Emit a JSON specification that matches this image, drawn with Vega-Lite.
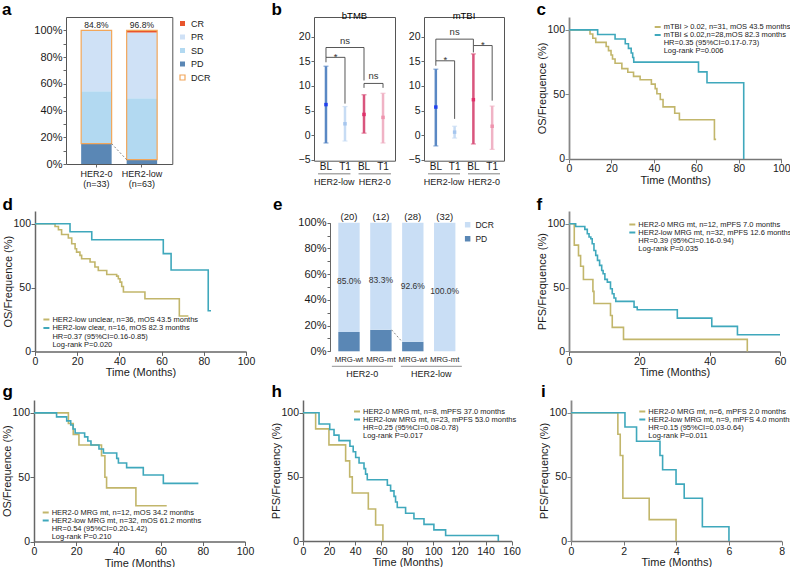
{
"$schema": "https://vega.github.io/schema/vega-lite/v6.json",
"background": "white",
"padding": {"left": 1, "top": 0, "right": 0, "bottom": 0},
"config": {
  "view": {"stroke": null},
  "font": "Liberation Sans",
  "axis": {"labelFont": "Liberation Sans", "titleFont": "Liberation Sans", "labelColor": "#1a1a1a", "titleColor": "#1a1a1a", "titleFontWeight": "normal", "grid": false, "domainColor": "#666", "tickColor": "#666", "labelFontSize": 10.5, "titleFontSize": 11, "labelOverlap": false},
  "legend": {"labelFont": "Liberation Sans", "labelColor": "#1a1a1a"},
  "title": {"font": "Liberation Sans", "color": "#000"},
  "text": {"font": "Liberation Sans"}
},
"spacing": 0,
"bounds": "full",
"resolve": {"scale": {"color": "independent", "stroke": "independent", "fill": "independent"}, "legend": {"color": "independent"}},
"vconcat": [
{
 "spacing": 0, "bounds": "flush",
 "resolve": {"scale": {"color": "independent", "stroke": "independent", "fill": "independent"}, "legend": {"color": "independent"}},
 "hconcat": [
  {"width": 64.7, "height": 20, "data": {"values": []}, "mark": "point",
   "title": {"text": "a", "anchor": "start", "frame": "group", "dx": 1, "offset": 0, "baseline": "alphabetic", "dy": 14.5, "fontSize": 17, "fontWeight": "bold"}},
  {"width": 106.3, "height": 147,
   "view": {"stroke": "#555", "strokeWidth": 1},
   "layer": [
    {"data": {"values": [
      {"her2": "HER2-0", "status": "PD", "lo": 0, "hi": 0.152},
      {"her2": "HER2-0", "status": "SD", "lo": 0.152, "hi": 0.545},
      {"her2": "HER2-0", "status": "PR", "lo": 0.545, "hi": 1.0},
      {"her2": "HER2-low", "status": "PD", "lo": 0, "hi": 0.032},
      {"her2": "HER2-low", "status": "SD", "lo": 0.032, "hi": 0.492},
      {"her2": "HER2-low", "status": "PR", "lo": 0.492, "hi": 0.984},
      {"her2": "HER2-low", "status": "CR", "lo": 0.984, "hi": 1.0}]},
     "mark": {"type": "bar"},
     "encoding": {
      "x": {"field": "her2", "type": "nominal", "scale": {"domain": ["HER2-0", "HER2-low"], "paddingInner": 0.33, "paddingOuter": 0.333},
            "axis": {"title": null, "labelAngle": 0, "labelFontSize": 9, "labelLineHeight": 10, "tickSize": 3, "labelPadding": 2, "domain": false,
                     "labelExpr": "datum.value == 'HER2-0' ? ['HER2-0', '(n=33)'] : ['HER2-low', '(n=63)']"}},
      "y": {"field": "lo", "type": "quantitative", "scale": {"domain": [0, 1.1], "nice": false},
            "axis": {"title": null, "values": [0, 0.1, 0.2, 0.3, 0.4, 0.5, 0.6, 0.7, 0.8, 0.9, 1], "tickCount": 30, "labelExpr": "round(datum.value*10) % 2 === 0 ? format(datum.value, '.0%') : ''", "tickSize": 3, "labelPadding": 1, "domain": false, "labelFontSize": 11, "labelOverlap": false}},
      "y2": {"field": "hi"},
      "color": {"field": "status", "type": "nominal",
                "scale": {"domain": ["CR", "PR", "SD", "PD", "DCR"], "range": ["#e8552d", "#cfe1f6", "#b2d9f1", "#5a87b5", "#ffffff"]},
                "legend": {"orient": "none", "legendX": 112, "legendY": 2, "title": null, "symbolType": "square", "symbolSize": 25, "labelFontSize": 9, "rowPadding": 2.5, "labelOffset": 4, "padding": 0,
                           "encode": {"symbols": {"update": {"stroke": {"signal": "datum.value === 'DCR' ? '#f2a65a' : 'transparent'"}, "strokeWidth": {"value": 1.2}}}}}}
     }},
    {"data": {"values": [{"her2": "HER2-0", "pd": 0.152, "dcr": 0.848}, {"her2": "HER2-low", "pd": 0.032, "dcr": 0.968}]},
     "mark": {"type": "bar", "fill": "transparent", "stroke": "#f2a65a", "strokeWidth": 1.2},
     "encoding": {"x": {"field": "her2", "type": "nominal"}, "y": {"field": "pd", "type": "quantitative"}, "y2": {"datum": 1}}},
    {"data": {"values": [{"her2": "HER2-0", "pd": 0.152, "dcr": 0.848}, {"her2": "HER2-low", "pd": 0.032, "dcr": 0.968}]},
     "mark": {"type": "text", "fontSize": 8.5, "dy": -2.5, "baseline": "alphabetic", "color": "#222"},
     "encoding": {"x": {"field": "her2", "type": "nominal"}, "y": {"datum": 1}, "text": {"field": "dcr", "type": "quantitative", "format": ".1%"}}},
    {"data": {"values": [{"from": "HER2-0", "to": "HER2-low", "pfrom": 0.152, "pto": 0.032}]},
     "mark": {"type": "rule", "strokeDash": [2, 2], "color": "#666", "strokeWidth": 0.8},
     "encoding": {"x": {"field": "from", "type": "nominal", "bandPosition": 1}, "x2": {"field": "to", "bandPosition": 0}, "y": {"field": "pfrom", "type": "quantitative"}, "y2": {"field": "pto"}}}
   ]},
  {"width": 141, "height": 177.5, "view": {"fill": "transparent", "stroke": "transparent"}, "data": {"values": []}, "mark": "point",
   "title": {"text": "b", "anchor": "start", "frame": "group", "dx": 98.5, "offset": 0, "baseline": "alphabetic", "dy": 14.5, "fontSize": 17, "fontWeight": "bold"}},
  {"width": 81, "height": 143.7,
   "view": {"stroke": "#555", "strokeWidth": 1},
   "title": {"text": "bTMB", "anchor": "middle", "offset": -13, "fontSize": 9.5, "fontWeight": "normal", "baseline": "bottom"},
   "resolve": {"scale": {"x": "independent"}, "axis": {"x": "independent"}},
   "layer": [
    {"data": {"values": [{"grp": "HER2-low"}, {"grp": "HER2-0"}]},
     "mark": {"type": "bar", "color": "#aaaaaa"},
     "encoding": {
      "x": {"field": "grp", "type": "nominal", "scale": {"domain": ["HER2-low", "HER2-0"], "paddingInner": 0.2, "paddingOuter": 0.1},
            "axis": {"orient": "bottom", "title": null, "offset": 15, "ticks": false, "domain": false, "labelFontSize": 9, "labelPadding": 2, "labelAngle": 0}},
      "y": {"datum": -7.7, "type": "quantitative", "scale": {"domain": [-5.2, 24], "nice": false}, "axis": {"title": null, "values": [-5, 0, 5, 10, 15, 20], "tickCount": 30, "tickSize": 3, "labelPadding": 1, "domain": false, "labelFontSize": 10.5, "labelOverlap": false}},
      "y2": {"datum": -8.0}}},
    {"layer": [
      {"data": {"values": [
        {"cat": "HER2-low BL", "mean": 6.2, "lo": -1.6, "hi": 14.0},
        {"cat": "HER2-low T1", "mean": 2.3, "lo": -1.2, "hi": 5.8},
        {"cat": "HER2-0 BL", "mean": 4.2, "lo": 0.4, "hi": 8.2},
        {"cat": "HER2-0 T1", "mean": 3.6, "lo": -1.6, "hi": 8.5}]},
       "layer": [
        {"mark": {"type": "rule", "strokeWidth": 2.5},
         "encoding": {
          "x": {"field": "cat", "type": "nominal", "scale": {"domain": ["HER2-low BL", "HER2-low T1", "HER2-0 BL", "HER2-0 T1"], "paddingInner": 0.37, "paddingOuter": 0.315},
                "axis": {"orient": "bottom", "title": null, "labelExpr": "split(datum.value, ' ')[1]", "ticks": false, "domain": false, "labelPadding": 1, "labelFontSize": 10, "labelAngle": 0}},
          "y": {"field": "lo", "type": "quantitative", "scale": {"domain": [-5.2, 24], "nice": false}},
          "y2": {"field": "hi"},
          "stroke": {"field": "cat", "type": "nominal", "scale": {"domain": ["HER2-low BL", "HER2-low T1", "HER2-0 BL", "HER2-0 T1"], "range": ["#5a88c4", "#c7dcf4", "#d9557d", "#f0b3c5"]}, "legend": null}}},
        {"mark": {"type": "tick", "thickness": 1.2, "size": 5},
         "encoding": {"x": {"field": "cat", "type": "nominal"}, "y": {"field": "lo", "type": "quantitative"},
          "color": {"field": "cat", "type": "nominal", "scale": {"domain": ["HER2-low BL", "HER2-low T1", "HER2-0 BL", "HER2-0 T1"], "range": ["#5a88c4", "#c7dcf4", "#d9557d", "#f0b3c5"]}, "legend": null}}},
        {"mark": {"type": "tick", "thickness": 1.2, "size": 5},
         "encoding": {"x": {"field": "cat", "type": "nominal"}, "y": {"field": "hi", "type": "quantitative"},
          "color": {"field": "cat", "type": "nominal", "legend": null}}},
        {"mark": {"type": "square", "size": 12, "opacity": 1},
         "encoding": {"x": {"field": "cat", "type": "nominal"}, "y": {"field": "mean", "type": "quantitative"},
          "fill": {"field": "cat", "type": "nominal", "scale": {"domain": ["HER2-low BL", "HER2-low T1", "HER2-0 BL", "HER2-0 T1"], "range": ["#2040f0", "#a6c6ee", "#e0306a", "#ef93ad"]}, "legend": null}}}
       ]},
      {"data": {"values": [
        {"a": "HER2-low BL", "b": "HER2-low T1", "y": 15.8},
        {"a": "HER2-low BL", "b": "HER2-0 BL", "y": 17.8},
        {"a": "HER2-0 BL", "b": "HER2-0 T1", "y": 10.5}]},
       "mark": {"type": "rule", "color": "#444", "strokeWidth": 0.9},
       "encoding": {"x": {"field": "a", "type": "nominal", "bandPosition": 0.5}, "x2": {"field": "b", "bandPosition": 0.5}, "y": {"field": "y", "type": "quantitative"}}},
      {"data": {"values": [
        {"c": "HER2-low BL", "y1": 14.8, "y2": 15.8},
        {"c": "HER2-low T1", "y1": 6.4, "y2": 15.8},
        {"c": "HER2-low BL", "y1": 15.8, "y2": 17.8},
        {"c": "HER2-0 BL", "y1": 11.1, "y2": 17.8},
        {"c": "HER2-0 BL", "y1": 9.6, "y2": 10.5},
        {"c": "HER2-0 T1", "y1": 9.6, "y2": 10.5}]},
       "mark": {"type": "rule", "color": "#444", "strokeWidth": 0.9},
       "encoding": {"x": {"field": "c", "type": "nominal"}, "y": {"field": "y1", "type": "quantitative"}, "y2": {"field": "y2"}}},
      {"data": {"values": [
        {"pos": "HER2-low BL", "txt": "*", "y": 15.8, "kind": "adj"},
        {"pos": "HER2-low T1", "txt": "ns", "y": 17.8, "kind": "mid"},
        {"pos": "HER2-0 BL", "txt": "ns", "y": 10.5, "kind": "adj"}]},
       "layer": [
        {"transform": [{"filter": "datum.kind === 'adj' && datum.txt === '*'"}],
         "mark": {"type": "text", "fontSize": 9.5, "dy": 2.5, "baseline": "alphabetic", "color": "#333"},
         "encoding": {"x": {"field": "pos", "type": "nominal", "bandPosition": 1.294}, "y": {"field": "y", "type": "quantitative"}, "text": {"field": "txt"}}},
        {"transform": [{"filter": "datum.kind === 'adj' && datum.txt === 'ns'"}],
         "mark": {"type": "text", "fontSize": 9.5, "dy": -4, "baseline": "alphabetic", "color": "#333"},
         "encoding": {"x": {"field": "pos", "type": "nominal", "bandPosition": 1.294}, "y": {"field": "y", "type": "quantitative"}, "text": {"field": "txt"}}},
        {"transform": [{"filter": "datum.kind === 'mid'"}],
         "mark": {"type": "text", "fontSize": 9.5, "dy": -4, "baseline": "alphabetic", "color": "#333"},
         "encoding": {"x": {"field": "pos", "type": "nominal", "bandPosition": 0.5}, "y": {"field": "y", "type": "quantitative"}, "text": {"field": "txt"}}}
       ]}
    ]}
   ]},
  {"width": 29, "height": 20, "data": {"values": []}, "mark": "point"},
  {"width": 80, "height": 143.7,
   "view": {"stroke": "#555", "strokeWidth": 1},
   "title": {"text": "mTBI", "anchor": "middle", "offset": -13, "fontSize": 9.5, "fontWeight": "normal", "baseline": "bottom"},
   "resolve": {"scale": {"x": "independent"}, "axis": {"x": "independent"}},
   "layer": [
    {"data": {"values": [{"grp": "HER2-low"}, {"grp": "HER2-0"}]},
     "mark": {"type": "bar", "color": "#aaaaaa"},
     "encoding": {
      "x": {"field": "grp", "type": "nominal", "scale": {"domain": ["HER2-low", "HER2-0"], "paddingInner": 0.2, "paddingOuter": 0.1},
            "axis": {"orient": "bottom", "title": null, "offset": 15, "ticks": false, "domain": false, "labelFontSize": 9, "labelPadding": 2, "labelAngle": 0}},
      "y": {"datum": -7.7, "type": "quantitative", "scale": {"domain": [-5.2, 24], "nice": false}, "axis": {"title": null, "values": [-5, 0, 5, 10, 15, 20], "tickCount": 30, "tickSize": 3, "labelPadding": 1, "domain": false, "labelFontSize": 10.5, "labelOverlap": false}},
      "y2": {"datum": -8.0}}},
    {"layer": [
      {"data": {"values": [
        {"cat": "HER2-low BL", "mean": 5.7, "lo": -2.2, "hi": 13.4},
        {"cat": "HER2-low T1", "mean": 0.6, "lo": -0.6, "hi": 1.8},
        {"cat": "HER2-0 BL", "mean": 7.2, "lo": -1.8, "hi": 16.5},
        {"cat": "HER2-0 T1", "mean": 1.8, "lo": -2.9, "hi": 5.9}]},
       "layer": [
        {"mark": {"type": "rule", "strokeWidth": 2.5},
         "encoding": {
          "x": {"field": "cat", "type": "nominal", "scale": {"domain": ["HER2-low BL", "HER2-low T1", "HER2-0 BL", "HER2-0 T1"], "paddingInner": 0.37, "paddingOuter": 0.315},
                "axis": {"orient": "bottom", "title": null, "labelExpr": "split(datum.value, ' ')[1]", "ticks": false, "domain": false, "labelPadding": 1, "labelFontSize": 10, "labelAngle": 0}},
          "y": {"field": "lo", "type": "quantitative", "scale": {"domain": [-5.2, 24], "nice": false}},
          "y2": {"field": "hi"},
          "stroke": {"field": "cat", "type": "nominal", "scale": {"domain": ["HER2-low BL", "HER2-low T1", "HER2-0 BL", "HER2-0 T1"], "range": ["#5a88c4", "#c7dcf4", "#d9557d", "#f0b3c5"]}, "legend": null}}},
        {"mark": {"type": "tick", "thickness": 1.2, "size": 5},
         "encoding": {"x": {"field": "cat", "type": "nominal"}, "y": {"field": "lo", "type": "quantitative"},
          "color": {"field": "cat", "type": "nominal", "scale": {"domain": ["HER2-low BL", "HER2-low T1", "HER2-0 BL", "HER2-0 T1"], "range": ["#5a88c4", "#c7dcf4", "#d9557d", "#f0b3c5"]}, "legend": null}}},
        {"mark": {"type": "tick", "thickness": 1.2, "size": 5},
         "encoding": {"x": {"field": "cat", "type": "nominal"}, "y": {"field": "hi", "type": "quantitative"},
          "color": {"field": "cat", "type": "nominal", "legend": null}}},
        {"mark": {"type": "square", "size": 12, "opacity": 1},
         "encoding": {"x": {"field": "cat", "type": "nominal"}, "y": {"field": "mean", "type": "quantitative"},
          "fill": {"field": "cat", "type": "nominal", "scale": {"domain": ["HER2-low BL", "HER2-low T1", "HER2-0 BL", "HER2-0 T1"], "range": ["#2040f0", "#a6c6ee", "#e0306a", "#ef93ad"]}, "legend": null}}}
       ]},
      {"data": {"values": [
        {"a": "HER2-low BL", "b": "HER2-0 BL", "y": 19.5},
        {"a": "HER2-low BL", "b": "HER2-low T1", "y": 15.1},
        {"a": "HER2-0 BL", "b": "HER2-0 T1", "y": 18.2}]},
       "mark": {"type": "rule", "color": "#444", "strokeWidth": 0.9},
       "encoding": {"x": {"field": "a", "type": "nominal", "bandPosition": 0.5}, "x2": {"field": "b", "bandPosition": 0.5}, "y": {"field": "y", "type": "quantitative"}}},
      {"data": {"values": [
        {"c": "HER2-low BL", "y1": 15.1, "y2": 19.5},
        {"c": "HER2-0 BL", "y1": 18.2, "y2": 19.5},
        {"c": "HER2-low BL", "y1": 14.1, "y2": 15.1},
        {"c": "HER2-low T1", "y1": 3.3, "y2": 15.1},
        {"c": "HER2-0 BL", "y1": 16.8, "y2": 18.2},
        {"c": "HER2-0 T1", "y1": 7.0, "y2": 18.2}]},
       "mark": {"type": "rule", "color": "#444", "strokeWidth": 0.9},
       "encoding": {"x": {"field": "c", "type": "nominal"}, "y": {"field": "y1", "type": "quantitative"}, "y2": {"field": "y2"}}},
      {"data": {"values": [
        {"pos": "HER2-low T1", "txt": "ns", "y": 19.5, "kind": "mid"},
        {"pos": "HER2-low BL", "txt": "*", "y": 15.1, "kind": "adj"},
        {"pos": "HER2-0 BL", "txt": "*", "y": 18.2, "kind": "adj"}]},
       "layer": [
        {"transform": [{"filter": "datum.kind === 'adj' && datum.txt === '*'"}],
         "mark": {"type": "text", "fontSize": 9.5, "dy": 2.5, "baseline": "alphabetic", "color": "#333"},
         "encoding": {"x": {"field": "pos", "type": "nominal", "bandPosition": 1.294}, "y": {"field": "y", "type": "quantitative"}, "text": {"field": "txt"}}},
        {"transform": [{"filter": "datum.kind === 'mid'"}],
         "mark": {"type": "text", "fontSize": 9.5, "dy": -4, "baseline": "alphabetic", "color": "#333"},
         "encoding": {"x": {"field": "pos", "type": "nominal", "bandPosition": 0.5}, "y": {"field": "y", "type": "quantitative"}, "text": {"field": "txt"}}}
       ]}
    ]}
   ]},
  {"width": 64.7, "height": 20, "data": {"values": []}, "mark": "point",
   "title": {"text": "c", "anchor": "start", "frame": "group", "dx": 32.5, "offset": 0, "baseline": "alphabetic", "dy": 14.5, "fontSize": 17, "fontWeight": "bold"}},
  {"width": 212.3, "height": 141.9,
   "data": {"values": [
    {"grp": "mTBI > 0.02, n=31, mOS 43.5 months", "t": 0, "s": 100},
    {"grp": "mTBI > 0.02, n=31, mOS 43.5 months", "t": 9.9, "s": 96.8},
    {"grp": "mTBI > 0.02, n=31, mOS 43.5 months", "t": 11.2, "s": 93.5},
    {"grp": "mTBI > 0.02, n=31, mOS 43.5 months", "t": 12.6, "s": 90.3},
    {"grp": "mTBI > 0.02, n=31, mOS 43.5 months", "t": 17.5, "s": 87.1},
    {"grp": "mTBI > 0.02, n=31, mOS 43.5 months", "t": 18.6, "s": 83.9},
    {"grp": "mTBI > 0.02, n=31, mOS 43.5 months", "t": 19.8, "s": 80.6},
    {"grp": "mTBI > 0.02, n=31, mOS 43.5 months", "t": 20.5, "s": 77.4},
    {"grp": "mTBI > 0.02, n=31, mOS 43.5 months", "t": 21.7, "s": 74.2},
    {"grp": "mTBI > 0.02, n=31, mOS 43.5 months", "t": 24.9, "s": 70.0},
    {"grp": "mTBI > 0.02, n=31, mOS 43.5 months", "t": 27.7, "s": 67.2},
    {"grp": "mTBI > 0.02, n=31, mOS 43.5 months", "t": 30.4, "s": 64.0},
    {"grp": "mTBI > 0.02, n=31, mOS 43.5 months", "t": 33.5, "s": 61.3},
    {"grp": "mTBI > 0.02, n=31, mOS 43.5 months", "t": 38.8, "s": 58.0},
    {"grp": "mTBI > 0.02, n=31, mOS 43.5 months", "t": 40.6, "s": 54.5},
    {"grp": "mTBI > 0.02, n=31, mOS 43.5 months", "t": 41.4, "s": 50.5},
    {"grp": "mTBI > 0.02, n=31, mOS 43.5 months", "t": 43.0, "s": 46.0},
    {"grp": "mTBI > 0.02, n=31, mOS 43.5 months", "t": 44.3, "s": 40.3},
    {"grp": "mTBI > 0.02, n=31, mOS 43.5 months", "t": 49.8, "s": 35.4},
    {"grp": "mTBI > 0.02, n=31, mOS 43.5 months", "t": 52.0, "s": 30.4},
    {"grp": "mTBI > 0.02, n=31, mOS 43.5 months", "t": 68.5, "s": 15.1},
    {"grp": "mTBI > 0.02, n=31, mOS 43.5 months", "t": 69.3, "s": 15.1},
    {"grp": "mTBI ≤ 0.02,n=28,mOS 82.3 months", "t": 0, "s": 100},
    {"grp": "mTBI ≤ 0.02,n=28,mOS 82.3 months", "t": 13.5, "s": 96.4},
    {"grp": "mTBI ≤ 0.02,n=28,mOS 82.3 months", "t": 21.7, "s": 92.9},
    {"grp": "mTBI ≤ 0.02,n=28,mOS 82.3 months", "t": 26.5, "s": 89.3},
    {"grp": "mTBI ≤ 0.02,n=28,mOS 82.3 months", "t": 28.0, "s": 85.7},
    {"grp": "mTBI ≤ 0.02,n=28,mOS 82.3 months", "t": 29.3, "s": 82.1},
    {"grp": "mTBI ≤ 0.02,n=28,mOS 82.3 months", "t": 30.0, "s": 78.6},
    {"grp": "mTBI ≤ 0.02,n=28,mOS 82.3 months", "t": 30.5, "s": 75.0},
    {"grp": "mTBI ≤ 0.02,n=28,mOS 82.3 months", "t": 61.0, "s": 67.5},
    {"grp": "mTBI ≤ 0.02,n=28,mOS 82.3 months", "t": 65.0, "s": 59.0},
    {"grp": "mTBI ≤ 0.02,n=28,mOS 82.3 months", "t": 82.3, "s": 0}]},
   "mark": {"type": "line", "interpolate": "step-after", "strokeWidth": 1.6},
   "encoding": {
    "x": {"field": "t", "type": "quantitative", "scale": {"domain": [0, 100], "nice": false},
          "axis": {"title": "Time (Months)", "values": [0, 20, 40, 60, 80, 100], "tickCount": 30, "format": "d", "tickSize": 4, "labelPadding": 1, "titlePadding": 0, "domainColor": "#777", "domainWidth": 1.5, "tickColor": "#777", "labelFlush": false}},
    "y": {"field": "s", "type": "quantitative", "scale": {"domain": [0, 110], "nice": false},
          "axis": {"title": "OS/Frequence (%)", "values": [0, 50, 100], "tickCount": 30, "format": "d", "tickSize": 4, "labelPadding": 0.5, "titlePadding": -1, "domainColor": "#888", "domainWidth": 1.8, "tickColor": "#888"}},
    "color": {"field": "grp", "type": "nominal",
              "scale": {"domain": ["mTBI > 0.02, n=31, mOS 43.5 months", "mTBI ≤ 0.02,n=28,mOS 82.3 months", "HR=0.35  (95%CI=0.17-0.73)", "Log-rank P=0.006"], "range": ["#c2b66b", "#3fa8bc", "transparent", "transparent"]},
              "legend": {"orient": "none", "legendX": 84.7, "legendY": 6, "title": null, "symbolType": "stroke", "symbolSize": 36, "symbolStrokeWidth": 2, "labelFontSize": 7.5, "rowPadding": 0, "labelOffset": 2, "padding": 0, "labelLimit": 300}}
   }}
 ]
},
{
 "spacing": 0, "bounds": "flush",
 "resolve": {"scale": {"color": "independent", "stroke": "independent", "fill": "independent"}, "legend": {"color": "independent"}},
 "hconcat": [
  {"width": 33.3, "height": 20, "data": {"values": []}, "mark": "point",
   "title": {"text": "d", "anchor": "start", "frame": "group", "dx": 1.5, "offset": 0, "baseline": "alphabetic", "dy": 16, "fontSize": 17, "fontWeight": "bold"}},
  {"width": 211, "height": 140.4,
   "data": {"values": [
    {"grp": "HER2-low unclear, n=36, mOS 43.5 months", "t": 0, "s": 100},
    {"grp": "HER2-low unclear, n=36, mOS 43.5 months", "t": 9.5, "s": 97.9},
    {"grp": "HER2-low unclear, n=36, mOS 43.5 months", "t": 11.1, "s": 95.3},
    {"grp": "HER2-low unclear, n=36, mOS 43.5 months", "t": 12.6, "s": 91.6},
    {"grp": "HER2-low unclear, n=36, mOS 43.5 months", "t": 15.8, "s": 88.8},
    {"grp": "HER2-low unclear, n=36, mOS 43.5 months", "t": 17.4, "s": 84.3},
    {"grp": "HER2-low unclear, n=36, mOS 43.5 months", "t": 19.0, "s": 80.4},
    {"grp": "HER2-low unclear, n=36, mOS 43.5 months", "t": 19.7, "s": 77.8},
    {"grp": "HER2-low unclear, n=36, mOS 43.5 months", "t": 21.3, "s": 75.2},
    {"grp": "HER2-low unclear, n=36, mOS 43.5 months", "t": 22.1, "s": 72.6},
    {"grp": "HER2-low unclear, n=36, mOS 43.5 months", "t": 26.1, "s": 70.0},
    {"grp": "HER2-low unclear, n=36, mOS 43.5 months", "t": 28.4, "s": 66.1},
    {"grp": "HER2-low unclear, n=36, mOS 43.5 months", "t": 30.0, "s": 63.4},
    {"grp": "HER2-low unclear, n=36, mOS 43.5 months", "t": 34.0, "s": 60.3},
    {"grp": "HER2-low unclear, n=36, mOS 43.5 months", "t": 38.7, "s": 59.0},
    {"grp": "HER2-low unclear, n=36, mOS 43.5 months", "t": 39.5, "s": 56.9},
    {"grp": "HER2-low unclear, n=36, mOS 43.5 months", "t": 40.3, "s": 54.3},
    {"grp": "HER2-low unclear, n=36, mOS 43.5 months", "t": 41.1, "s": 50.9},
    {"grp": "HER2-low unclear, n=36, mOS 43.5 months", "t": 41.9, "s": 46.5},
    {"grp": "HER2-low unclear, n=36, mOS 43.5 months", "t": 52.1, "s": 41.3},
    {"grp": "HER2-low unclear, n=36, mOS 43.5 months", "t": 68.4, "s": 27.7},
    {"grp": "HER2-low unclear, n=36, mOS 43.5 months", "t": 72.7, "s": 27.7},
    {"grp": "HER2-low clear, n=16, mOS 82.3 months", "t": 0, "s": 100},
    {"grp": "HER2-low clear, n=16, mOS 82.3 months", "t": 16.6, "s": 93.8},
    {"grp": "HER2-low clear, n=16, mOS 82.3 months", "t": 26.9, "s": 87.5},
    {"grp": "HER2-low clear, n=16, mOS 82.3 months", "t": 60.8, "s": 76.6},
    {"grp": "HER2-low clear, n=16, mOS 82.3 months", "t": 64.5, "s": 63.8},
    {"grp": "HER2-low clear, n=16, mOS 82.3 months", "t": 82.1, "s": 31.9},
    {"grp": "HER2-low clear, n=16, mOS 82.3 months", "t": 83.4, "s": 31.9}]},
   "mark": {"type": "line", "interpolate": "step-after", "strokeWidth": 1.6},
   "encoding": {
    "x": {"field": "t", "type": "quantitative", "scale": {"domain": [0, 100], "nice": false},
          "axis": {"title": "Time (Months)", "values": [0, 20, 40, 60, 80, 100], "tickCount": 30, "format": "d", "tickSize": 4, "labelPadding": 1, "titlePadding": 0, "domainColor": "#666", "domainWidth": 1.5, "tickColor": "#666", "labelFlush": false}},
    "y": {"field": "s", "type": "quantitative", "scale": {"domain": [0, 110], "nice": false},
          "axis": {"title": "OS/Frequence (%)", "values": [0, 50, 100], "tickCount": 30, "format": "d", "tickSize": 4, "labelPadding": 0.5, "titlePadding": -1, "domainColor": "#666", "domainWidth": 1.5, "tickColor": "#666"}},
    "color": {"field": "grp", "type": "nominal",
              "scale": {"domain": ["HER2-low unclear, n=36, mOS 43.5 months", "HER2-low clear, n=16, mOS 82.3 months", "HR=0.37 (95%CI=0.16-0.85)", "Log-rank P=0.020"], "range": ["#c2b66b", "#3fa8bc", "transparent", "transparent"]},
              "legend": {"orient": "none", "legendX": 7.4, "legendY": 104.5, "title": null, "symbolType": "stroke", "symbolSize": 36, "symbolStrokeWidth": 2, "labelFontSize": 7.5, "rowPadding": 0.5, "labelOffset": 2, "padding": 0, "labelLimit": 300}}
   }},
  {"width": 84, "height": 171, "view": {"fill": "transparent", "stroke": "transparent"}, "data": {"values": []}, "mark": "point",
   "title": {"text": "e", "anchor": "start", "frame": "group", "dx": 27, "offset": 0, "baseline": "alphabetic", "dy": 16, "fontSize": 17, "fontWeight": "bold"}},
  {"width": 133.7, "height": 140.4,
   "resolve": {"scale": {"x": "independent"}, "axis": {"x": "independent"}},
   "layer": [
    {"data": {"values": [{"grp": "HER2-0"}, {"grp": "HER2-low"}]},
     "mark": {"type": "bar", "color": "#a8a8a8"},
     "encoding": {
      "x": {"field": "grp", "type": "nominal", "scale": {"domain": ["HER2-0", "HER2-low"], "paddingInner": 0.116, "paddingOuter": 0.027},
            "axis": {"orient": "bottom", "title": null, "offset": 16, "ticks": false, "domain": false, "labelFontSize": 9, "labelPadding": 2, "labelAngle": 0}},
      "y": {"datum": -0.112, "type": "quantitative", "scale": {"domain": [0, 1], "range": [140.3, 11.7], "nice": false},
            "axis": {"title": null, "values": [0, 0.1, 0.2, 0.3, 0.4, 0.5, 0.6, 0.7, 0.8, 0.9, 1], "tickCount": 30, "labelExpr": "round(datum.value*10) % 2 === 0 ? format(datum.value, '.0%') : ''", "tickSize": 3, "labelPadding": 1, "domainColor": "#666", "labelFontSize": 11, "labelOverlap": false}},
      "y2": {"datum": -0.122}}},
    {"layer": [
      {"data": {"values": [
        {"bar": "HER2-0 MRG-wt", "status": "PD", "lo": 0, "hi": 0.15, "pct": 0.15},
        {"bar": "HER2-0 MRG-wt", "status": "DCR", "lo": 0.15, "hi": 1, "pct": 0.85},
        {"bar": "HER2-0 MRG-mt", "status": "PD", "lo": 0, "hi": 0.167, "pct": 0.167},
        {"bar": "HER2-0 MRG-mt", "status": "DCR", "lo": 0.167, "hi": 1, "pct": 0.833},
        {"bar": "HER2-low MRG-wt", "status": "PD", "lo": 0, "hi": 0.074, "pct": 0.074},
        {"bar": "HER2-low MRG-wt", "status": "DCR", "lo": 0.074, "hi": 1, "pct": 0.926},
        {"bar": "HER2-low MRG-mt", "status": "DCR", "lo": 0, "hi": 1, "pct": 1.0}]},
       "layer": [
        {"mark": {"type": "bar"},
         "encoding": {
          "x": {"field": "bar", "type": "nominal", "scale": {"domain": ["HER2-0 MRG-wt", "HER2-0 MRG-mt", "HER2-low MRG-wt", "HER2-low MRG-mt"], "paddingInner": 0.33, "paddingOuter": 0.26},
                "axis": {"orient": "bottom", "title": null, "labelExpr": "split(datum.value, ' ')[1]", "ticks": false, "domain": false, "labelPadding": 4, "labelFontSize": 7.8, "labelAngle": 0}},
          "y": {"field": "lo", "type": "quantitative", "scale": {"domain": [0, 1], "range": [140.3, 11.7], "nice": false}},
          "y2": {"field": "hi"},
          "color": {"field": "status", "type": "nominal", "scale": {"domain": ["DCR", "PD"], "range": ["#c9def5", "#5a87b5"]},
                    "legend": {"orient": "none", "legendX": 133.4, "legendY": 9.5, "title": null, "symbolType": "square", "symbolSize": 30, "labelFontSize": 8.5, "rowPadding": 5, "labelOffset": 3.5, "padding": 0}}}},
        {"transform": [{"filter": "datum.status === 'DCR'"}, {"fold": ["lo", "hi"]}],
         "mark": {"type": "text", "fontSize": 8.5, "baseline": "middle", "dy": 3.5, "color": "#333"},
         "encoding": {"x": {"field": "bar", "type": "nominal"}, "y": {"aggregate": "mean", "field": "value", "type": "quantitative"}, "text": {"field": "pct", "type": "quantitative", "format": ".1%"}}}
       ]},
      {"data": {"values": [
        {"bar": "HER2-0 MRG-wt", "n": "(20)"},
        {"bar": "HER2-0 MRG-mt", "n": "(12)"},
        {"bar": "HER2-low MRG-wt", "n": "(28)"},
        {"bar": "HER2-low MRG-mt", "n": "(32)"}]},
       "mark": {"type": "text", "fontSize": 9.5, "baseline": "alphabetic", "dy": -3, "color": "#222"},
       "encoding": {"x": {"field": "bar", "type": "nominal"}, "y": {"datum": 1}, "text": {"field": "n"}}},
      {"data": {"values": [{"from": "HER2-0 MRG-mt", "to": "HER2-low MRG-wt", "pfrom": 0.167, "pto": 0.074}]},
       "mark": {"type": "rule", "strokeDash": [2, 2], "color": "#666", "strokeWidth": 0.8},
       "encoding": {"x": {"field": "from", "type": "nominal", "bandPosition": 1}, "x2": {"field": "to", "bandPosition": 0}, "y": {"field": "pfrom", "type": "quantitative"}, "y2": {"field": "pto"}}}
    ]}
   ]},
  {"width": 104.7, "height": 20, "data": {"values": []}, "mark": "point",
   "title": {"text": "f", "anchor": "start", "frame": "group", "dx": 72.5, "offset": 0, "baseline": "alphabetic", "dy": 16, "fontSize": 17, "fontWeight": "bold"}},
  {"width": 211, "height": 140.4,
   "data": {"values": [
    {"grp": "HER2-0 MRG mt, n=12, mPFS 7.0 months", "t": 0, "s": 100},
    {"grp": "HER2-0 MRG mt, n=12, mPFS 7.0 months", "t": 1.5, "s": 83.3},
    {"grp": "HER2-0 MRG mt, n=12, mPFS 7.0 months", "t": 2.7, "s": 75.0},
    {"grp": "HER2-0 MRG mt, n=12, mPFS 7.0 months", "t": 3.3, "s": 66.7},
    {"grp": "HER2-0 MRG mt, n=12, mPFS 7.0 months", "t": 4.1, "s": 56.3},
    {"grp": "HER2-0 MRG mt, n=12, mPFS 7.0 months", "t": 6.8, "s": 47.0},
    {"grp": "HER2-0 MRG mt, n=12, mPFS 7.0 months", "t": 7.1, "s": 37.5},
    {"grp": "HER2-0 MRG mt, n=12, mPFS 7.0 months", "t": 11.8, "s": 28.1},
    {"grp": "HER2-0 MRG mt, n=12, mPFS 7.0 months", "t": 12.3, "s": 18.8},
    {"grp": "HER2-0 MRG mt, n=12, mPFS 7.0 months", "t": 15.5, "s": 9.4},
    {"grp": "HER2-0 MRG mt, n=12, mPFS 7.0 months", "t": 50.7, "s": 0},
    {"grp": "HER2-low MRG mt, n=32, mPFS 12.6 months", "t": 0, "s": 100},
    {"grp": "HER2-low MRG mt, n=32, mPFS 12.6 months", "t": 1.9, "s": 97.9},
    {"grp": "HER2-low MRG mt, n=32, mPFS 12.6 months", "t": 4.5, "s": 95.6},
    {"grp": "HER2-low MRG mt, n=32, mPFS 12.6 months", "t": 5.2, "s": 92.2},
    {"grp": "HER2-low MRG mt, n=32, mPFS 12.6 months", "t": 5.7, "s": 89.6},
    {"grp": "HER2-low MRG mt, n=32, mPFS 12.6 months", "t": 6.2, "s": 88.3},
    {"grp": "HER2-low MRG mt, n=32, mPFS 12.6 months", "t": 6.6, "s": 84.3},
    {"grp": "HER2-low MRG mt, n=32, mPFS 12.6 months", "t": 7.1, "s": 79.1},
    {"grp": "HER2-low MRG mt, n=32, mPFS 12.6 months", "t": 7.6, "s": 75.2},
    {"grp": "HER2-low MRG mt, n=32, mPFS 12.6 months", "t": 8.1, "s": 71.3},
    {"grp": "HER2-low MRG mt, n=32, mPFS 12.6 months", "t": 8.7, "s": 67.4},
    {"grp": "HER2-low MRG mt, n=32, mPFS 12.6 months", "t": 9.3, "s": 63.4},
    {"grp": "HER2-low MRG mt, n=32, mPFS 12.6 months", "t": 9.7, "s": 60.8},
    {"grp": "HER2-low MRG mt, n=32, mPFS 12.6 months", "t": 10.2, "s": 56.4},
    {"grp": "HER2-low MRG mt, n=32, mPFS 12.6 months", "t": 10.9, "s": 54.3},
    {"grp": "HER2-low MRG mt, n=32, mPFS 12.6 months", "t": 11.8, "s": 49.1},
    {"grp": "HER2-low MRG mt, n=32, mPFS 12.6 months", "t": 12.3, "s": 45.2},
    {"grp": "HER2-low MRG mt, n=32, mPFS 12.6 months", "t": 12.8, "s": 41.8},
    {"grp": "HER2-low MRG mt, n=32, mPFS 12.6 months", "t": 13.3, "s": 39.2},
    {"grp": "HER2-low MRG mt, n=32, mPFS 12.6 months", "t": 18.5, "s": 34.7},
    {"grp": "HER2-low MRG mt, n=32, mPFS 12.6 months", "t": 19.4, "s": 32.6},
    {"grp": "HER2-low MRG mt, n=32, mPFS 12.6 months", "t": 30.8, "s": 26.1},
    {"grp": "HER2-low MRG mt, n=32, mPFS 12.6 months", "t": 40.6, "s": 19.6},
    {"grp": "HER2-low MRG mt, n=32, mPFS 12.6 months", "t": 47.9, "s": 13.0},
    {"grp": "HER2-low MRG mt, n=32, mPFS 12.6 months", "t": 60, "s": 13.0}]},
   "mark": {"type": "line", "interpolate": "step-after", "strokeWidth": 1.6},
   "encoding": {
    "x": {"field": "t", "type": "quantitative", "scale": {"domain": [0, 60], "nice": false},
          "axis": {"title": "Time (Months)", "values": [0, 20, 40, 60], "tickCount": 30, "format": "d", "tickSize": 4, "labelPadding": 1, "titlePadding": 0, "domainColor": "#666", "domainWidth": 1.5, "tickColor": "#666", "labelFlush": false}},
    "y": {"field": "s", "type": "quantitative", "scale": {"domain": [0, 110], "nice": false},
          "axis": {"title": "PFS/Frequence (%)", "values": [0, 50, 100], "tickCount": 30, "format": "d", "tickSize": 4, "labelPadding": 0.5, "titlePadding": -1, "domainColor": "#888", "domainWidth": 1.8, "tickColor": "#888"}},
    "color": {"field": "grp", "type": "nominal",
              "scale": {"domain": ["HER2-0 MRG mt, n=12, mPFS 7.0 months", "HER2-low MRG mt, n=32, mPFS 12.6 months", "HR=0.39 (95%CI=0.16-0.94)", "Log-rank P=0.035"], "range": ["#c2b66b", "#3fa8bc", "transparent", "transparent"]},
              "legend": {"orient": "none", "legendX": 59.3, "legendY": 9.5, "title": null, "symbolType": "stroke", "symbolSize": 36, "symbolStrokeWidth": 2, "labelFontSize": 7.5, "rowPadding": 0, "labelOffset": 2, "padding": 0, "labelLimit": 300}}
   }}
 ]
},
{
 "spacing": 0, "bounds": "flush",
 "resolve": {"scale": {"color": "independent", "stroke": "independent", "fill": "independent"}, "legend": {"color": "independent"}},
 "hconcat": [
  {"width": 32.3, "height": 20, "data": {"values": []}, "mark": "point",
   "title": {"text": "g", "anchor": "start", "frame": "group", "dx": 1.5, "offset": 0, "baseline": "alphabetic", "dy": 14, "fontSize": 17, "fontWeight": "bold"}},
  {"width": 211, "height": 141.5,
   "data": {"values": [
    {"grp": "HER2-0 MRG mt, n=12, mOS 34.2 months", "t": 0, "s": 100},
    {"grp": "HER2-0 MRG mt, n=12, mOS 34.2 months", "t": 16.3, "s": 91.7},
    {"grp": "HER2-0 MRG mt, n=12, mOS 34.2 months", "t": 18.6, "s": 83.3},
    {"grp": "HER2-0 MRG mt, n=12, mOS 34.2 months", "t": 21.3, "s": 75.0},
    {"grp": "HER2-0 MRG mt, n=12, mOS 34.2 months", "t": 32.0, "s": 66.7},
    {"grp": "HER2-0 MRG mt, n=12, mOS 34.2 months", "t": 33.6, "s": 50.0},
    {"grp": "HER2-0 MRG mt, n=12, mOS 34.2 months", "t": 34.4, "s": 41.7},
    {"grp": "HER2-0 MRG mt, n=12, mOS 34.2 months", "t": 48.3, "s": 27.8},
    {"grp": "HER2-0 MRG mt, n=12, mOS 34.2 months", "t": 62.9, "s": 27.8},
    {"grp": "HER2-low MRG mt, n=32, mOS 61.2 months", "t": 0, "s": 100},
    {"grp": "HER2-low MRG mt, n=32, mOS 61.2 months", "t": 10.7, "s": 96.9},
    {"grp": "HER2-low MRG mt, n=32, mOS 61.2 months", "t": 15.5, "s": 93.8},
    {"grp": "HER2-low MRG mt, n=32, mOS 61.2 months", "t": 17.4, "s": 90.6},
    {"grp": "HER2-low MRG mt, n=32, mOS 61.2 months", "t": 18.5, "s": 87.5},
    {"grp": "HER2-low MRG mt, n=32, mOS 61.2 months", "t": 19.5, "s": 84.4},
    {"grp": "HER2-low MRG mt, n=32, mOS 61.2 months", "t": 24.0, "s": 81.3},
    {"grp": "HER2-low MRG mt, n=32, mOS 61.2 months", "t": 25.5, "s": 78.1},
    {"grp": "HER2-low MRG mt, n=32, mOS 61.2 months", "t": 27.0, "s": 75.0},
    {"grp": "HER2-low MRG mt, n=32, mOS 61.2 months", "t": 30.8, "s": 71.9},
    {"grp": "HER2-low MRG mt, n=32, mOS 61.2 months", "t": 32.9, "s": 68.8},
    {"grp": "HER2-low MRG mt, n=32, mOS 61.2 months", "t": 39.2, "s": 64.6},
    {"grp": "HER2-low MRG mt, n=32, mOS 61.2 months", "t": 40.0, "s": 61.0},
    {"grp": "HER2-low MRG mt, n=32, mOS 61.2 months", "t": 43.9, "s": 57.4},
    {"grp": "HER2-low MRG mt, n=32, mOS 61.2 months", "t": 51.8, "s": 51.7},
    {"grp": "HER2-low MRG mt, n=32, mOS 61.2 months", "t": 61.3, "s": 45.2},
    {"grp": "HER2-low MRG mt, n=32, mOS 61.2 months", "t": 77.9, "s": 45.2}]},
   "mark": {"type": "line", "interpolate": "step-after", "strokeWidth": 1.6},
   "encoding": {
    "x": {"field": "t", "type": "quantitative", "scale": {"domain": [0, 100], "nice": false},
          "axis": {"title": "Time (Months)", "values": [0, 20, 40, 60, 80, 100], "tickCount": 30, "format": "d", "tickSize": 4, "labelPadding": 1, "titlePadding": 0, "domainColor": "#666", "domainWidth": 1.5, "tickColor": "#666", "labelFlush": false}},
    "y": {"field": "s", "type": "quantitative", "scale": {"domain": [0, 110], "nice": false},
          "axis": {"title": "OS/Frequence (%)", "values": [0, 50, 100], "tickCount": 30, "format": "d", "tickSize": 4, "labelPadding": 0.5, "titlePadding": -1, "domainColor": "#666", "domainWidth": 1.5, "tickColor": "#666"}},
    "color": {"field": "grp", "type": "nominal",
              "scale": {"domain": ["HER2-0 MRG mt, n=12, mOS 34.2 months", "HER2-low MRG mt, n=32, mOS 61.2 months", "HR=0.54  (95%CI=0.20-1.42)", "Log-rank P=0.210"], "range": ["#c2b66b", "#3fa8bc", "transparent", "transparent"]},
              "legend": {"orient": "none", "legendX": 7.7, "legendY": 108.5, "title": null, "symbolType": "stroke", "symbolSize": 36, "symbolStrokeWidth": 2, "labelFontSize": 7.5, "rowPadding": 0, "labelOffset": 2, "padding": 0, "labelLimit": 300}}
   }},
  {"width": 57.4, "height": 20, "data": {"values": []}, "mark": "point",
   "title": {"text": "h", "anchor": "start", "frame": "group", "dx": 26.5, "offset": 0, "baseline": "alphabetic", "dy": 14, "fontSize": 17, "fontWeight": "bold"}},
  {"width": 208.6, "height": 141,
   "data": {"values": [
    {"grp": "HER2-0 MRG mt, n=8, mPFS 37.0 months", "t": 0, "s": 100},
    {"grp": "HER2-0 MRG mt, n=8, mPFS 37.0 months", "t": 9.7, "s": 87.5},
    {"grp": "HER2-0 MRG mt, n=8, mPFS 37.0 months", "t": 19.9, "s": 75.0},
    {"grp": "HER2-0 MRG mt, n=8, mPFS 37.0 months", "t": 32.7, "s": 62.5},
    {"grp": "HER2-0 MRG mt, n=8, mPFS 37.0 months", "t": 35.8, "s": 50.0},
    {"grp": "HER2-0 MRG mt, n=8, mPFS 37.0 months", "t": 37.8, "s": 37.5},
    {"grp": "HER2-0 MRG mt, n=8, mPFS 37.0 months", "t": 50.1, "s": 25.0},
    {"grp": "HER2-0 MRG mt, n=8, mPFS 37.0 months", "t": 55.7, "s": 12.5},
    {"grp": "HER2-0 MRG mt, n=8, mPFS 37.0 months", "t": 61.3, "s": 0},
    {"grp": "HER2-low MRG mt, n=23, mPFS 53.0 months", "t": 0, "s": 100},
    {"grp": "HER2-low MRG mt, n=23, mPFS 53.0 months", "t": 12.3, "s": 91.3},
    {"grp": "HER2-low MRG mt, n=23, mPFS 53.0 months", "t": 20.5, "s": 87.0},
    {"grp": "HER2-low MRG mt, n=23, mPFS 53.0 months", "t": 23.8, "s": 82.6},
    {"grp": "HER2-low MRG mt, n=23, mPFS 53.0 months", "t": 27.6, "s": 78.3},
    {"grp": "HER2-low MRG mt, n=23, mPFS 53.0 months", "t": 36.0, "s": 73.9},
    {"grp": "HER2-low MRG mt, n=23, mPFS 53.0 months", "t": 38.5, "s": 69.6},
    {"grp": "HER2-low MRG mt, n=23, mPFS 53.0 months", "t": 40.4, "s": 65.2},
    {"grp": "HER2-low MRG mt, n=23, mPFS 53.0 months", "t": 43.0, "s": 60.9},
    {"grp": "HER2-low MRG mt, n=23, mPFS 53.0 months", "t": 46.8, "s": 56.5},
    {"grp": "HER2-low MRG mt, n=23, mPFS 53.0 months", "t": 48.0, "s": 52.2},
    {"grp": "HER2-low MRG mt, n=23, mPFS 53.0 months", "t": 49.3, "s": 47.8},
    {"grp": "HER2-low MRG mt, n=23, mPFS 53.0 months", "t": 64.7, "s": 43.5},
    {"grp": "HER2-low MRG mt, n=23, mPFS 53.0 months", "t": 67.2, "s": 39.1},
    {"grp": "HER2-low MRG mt, n=23, mPFS 53.0 months", "t": 69.8, "s": 34.8},
    {"grp": "HER2-low MRG mt, n=23, mPFS 53.0 months", "t": 71.0, "s": 30.4},
    {"grp": "HER2-low MRG mt, n=23, mPFS 53.0 months", "t": 72.3, "s": 26.1},
    {"grp": "HER2-low MRG mt, n=23, mPFS 53.0 months", "t": 78.7, "s": 21.7},
    {"grp": "HER2-low MRG mt, n=23, mPFS 53.0 months", "t": 85.1, "s": 17.4},
    {"grp": "HER2-low MRG mt, n=23, mPFS 53.0 months", "t": 92.8, "s": 13.0},
    {"grp": "HER2-low MRG mt, n=23, mPFS 53.0 months", "t": 100.4, "s": 8.7},
    {"grp": "HER2-low MRG mt, n=23, mPFS 53.0 months", "t": 109.4, "s": 4.3},
    {"grp": "HER2-low MRG mt, n=23, mPFS 53.0 months", "t": 149.8, "s": 0}]},
   "mark": {"type": "line", "interpolate": "step-after", "strokeWidth": 1.6},
   "encoding": {
    "x": {"field": "t", "type": "quantitative", "scale": {"domain": [0, 160], "nice": false},
          "axis": {"title": "Time (Months)", "values": [0, 20, 40, 60, 80, 100, 120, 140, 160], "tickCount": 30, "format": "d", "tickSize": 4, "labelPadding": 1, "titlePadding": 0, "domainColor": "#666", "domainWidth": 1.5, "tickColor": "#666", "labelFlush": false}},
    "y": {"field": "s", "type": "quantitative", "scale": {"domain": [0, 110], "nice": false},
          "axis": {"title": "PFS/Frequency (%)", "values": [0, 50, 100], "tickCount": 30, "format": "d", "tickSize": 4, "labelPadding": 0.5, "titlePadding": -1, "domainColor": "#666", "domainWidth": 1.5, "tickColor": "#666"}},
    "color": {"field": "grp", "type": "nominal",
              "scale": {"domain": ["HER2-0 MRG mt, n=8, mPFS 37.0 months", "HER2-low MRG mt, n=23, mPFS 53.0 months", "HR=0.25  (95%CI=0.08-0.78)", "Log-rank P=0.017"], "range": ["#c2b66b", "#3fa8bc", "transparent", "transparent"]},
              "legend": {"orient": "none", "legendX": 50, "legendY": 7.5, "title": null, "symbolType": "stroke", "symbolSize": 36, "symbolStrokeWidth": 2, "labelFontSize": 7.5, "rowPadding": 0, "labelOffset": 2, "padding": 0, "labelLimit": 300}}
   }},
  {"width": 58.4, "height": 20, "data": {"values": []}, "mark": "point",
   "title": {"text": "i", "anchor": "start", "frame": "group", "dx": 29, "offset": 0, "baseline": "alphabetic", "dy": 14, "fontSize": 17, "fontWeight": "bold"}},
  {"width": 210.6, "height": 141,
   "data": {"values": [
    {"grp": "HER2-0 MRG mt, n=6, mPFS 2.0 months", "t": 0, "s": 100},
    {"grp": "HER2-0 MRG mt, n=6, mPFS 2.0 months", "t": 1.78, "s": 83.3},
    {"grp": "HER2-0 MRG mt, n=6, mPFS 2.0 months", "t": 1.87, "s": 66.7},
    {"grp": "HER2-0 MRG mt, n=6, mPFS 2.0 months", "t": 1.97, "s": 33.3},
    {"grp": "HER2-0 MRG mt, n=6, mPFS 2.0 months", "t": 2.97, "s": 16.7},
    {"grp": "HER2-0 MRG mt, n=6, mPFS 2.0 months", "t": 3.99, "s": 0},
    {"grp": "HER2-low MRG mt, n=9, mPFS 4.0 months", "t": 0, "s": 100},
    {"grp": "HER2-low MRG mt, n=9, mPFS 4.0 months", "t": 2.05, "s": 88.9},
    {"grp": "HER2-low MRG mt, n=9, mPFS 4.0 months", "t": 2.49, "s": 77.8},
    {"grp": "HER2-low MRG mt, n=9, mPFS 4.0 months", "t": 3.38, "s": 66.7},
    {"grp": "HER2-low MRG mt, n=9, mPFS 4.0 months", "t": 3.48, "s": 55.6},
    {"grp": "HER2-low MRG mt, n=9, mPFS 4.0 months", "t": 3.99, "s": 44.4},
    {"grp": "HER2-low MRG mt, n=9, mPFS 4.0 months", "t": 4.3, "s": 33.3},
    {"grp": "HER2-low MRG mt, n=9, mPFS 4.0 months", "t": 4.99, "s": 11.1},
    {"grp": "HER2-low MRG mt, n=9, mPFS 4.0 months", "t": 6.0, "s": 0}]},
   "mark": {"type": "line", "interpolate": "step-after", "strokeWidth": 1.6},
   "encoding": {
    "x": {"field": "t", "type": "quantitative", "scale": {"domain": [0, 8], "nice": false},
          "axis": {"title": "Time (Months)", "values": [0, 2, 4, 6, 8], "tickCount": 30, "format": "d", "tickSize": 4, "labelPadding": 1, "titlePadding": 0, "domainColor": "#777", "domainWidth": 1.5, "tickColor": "#777", "labelFlush": false}},
    "y": {"field": "s", "type": "quantitative", "scale": {"domain": [0, 110], "nice": false},
          "axis": {"title": "PFS/Frequency (%)", "values": [0, 50, 100], "tickCount": 30, "format": "d", "tickSize": 4, "labelPadding": 0.5, "titlePadding": -1, "domainColor": "#888", "domainWidth": 1.8, "tickColor": "#888"}},
    "color": {"field": "grp", "type": "nominal",
              "scale": {"domain": ["HER2-0 MRG mt, n=6, mPFS 2.0 months", "HER2-low MRG mt, n=9, mPFS 4.0 months", "HR=0.15  (95%CI=0.03-0.64)", "Log-rank P=0.011"], "range": ["#c2b66b", "#3fa8bc", "transparent", "transparent"]},
              "legend": {"orient": "none", "legendX": 67.3, "legendY": 7.5, "title": null, "symbolType": "stroke", "symbolSize": 36, "symbolStrokeWidth": 2, "labelFontSize": 7.5, "rowPadding": 0, "labelOffset": 2, "padding": 0, "labelLimit": 300}}
   }}
 ]
}
]
}
